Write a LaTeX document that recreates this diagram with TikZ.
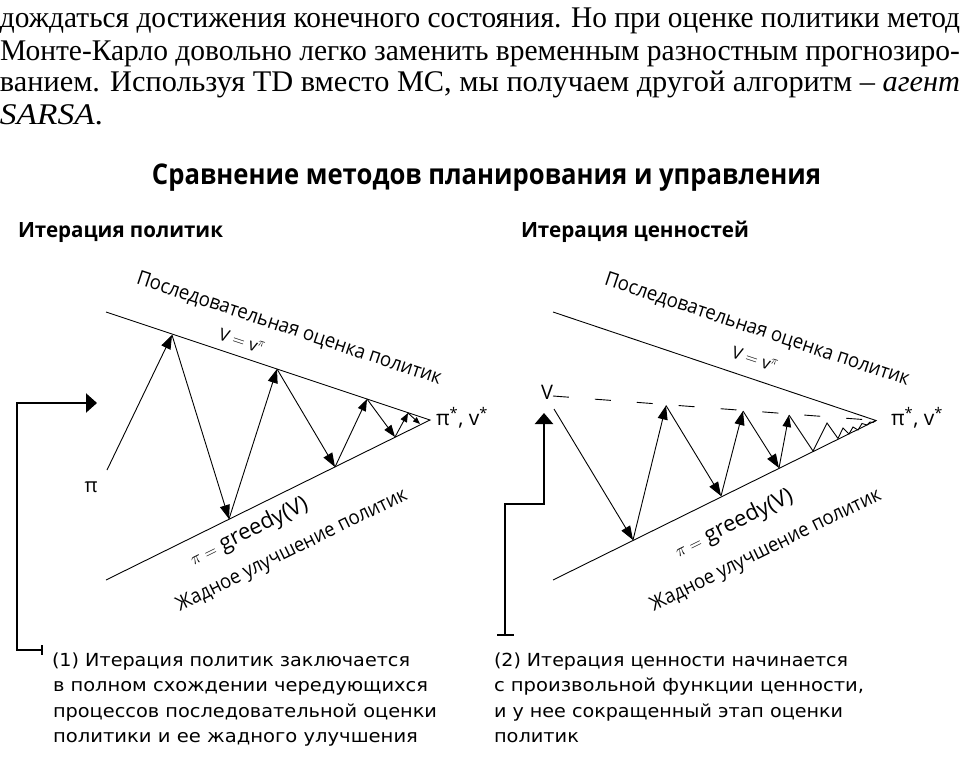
\documentclass[tikz,border=0pt]{standalone}
\usepackage{fontspec}
\usepackage{graphicx}
\setmainfont{Liberation Serif}
\newfontfamily\hsans{Open Sans}
\newfontfamily\csans{DejaVu Sans}
\usetikzlibrary{arrows.meta}
\newcommand{\fw}[2]{\resizebox{#1}{\height}{#2}}
\tikzset{
  txt/.style={inner sep=0pt, outer sep=0pt},
  thinln/.style={line width=0.9pt, black},
  ar/.style={thinln, -{Triangle[length=14pt,width=10pt]}},
  arm/.style={thinln, -{Triangle[length=12pt,width=8.5pt]}},
  ars/.style={thinln, -{Triangle[length=9pt,width=7pt]}},
  arxs/.style={thinln, -{Triangle[length=7pt,width=5.5pt]}},
  bracket/.style={line width=2.4pt, black},
  lab/.style={txt, font=\hsans\fontsize{20}{20}\selectfont},
  ptext/.style={txt, anchor=base west, font=\fontsize{30}{30}\selectfont},
}
\begin{document}
\begin{tikzpicture}[x=1pt,y=-1pt]
\path[use as bounding box] (0,0) rectangle (972,760);

% ---------- paragraph ----------
\node[ptext] (p1) at (0,28) {\fw{960pt}{дождаться достижения конечного состояния. Но при оценке политики метод}};
\node[ptext] (p2) at (0,60) {\fw{960pt}{Монте-Карло довольно легко заменить временным разностным прогнозиро-}};
\node[ptext] (p3) at (0,92) {\fw{960pt}{ванием. Используя TD вместо MC, мы получаем другой алгоритм – \textit{агент}}};
\node[ptext] (p4) at (0,124) {\fw{103pt}{\textit{SARSA}.}};

% ---------- headings ----------
\node[txt, anchor=base] (title) at (486.5,184.5) {\hsans\bfseries\fontsize{28.5}{28.5}\selectfont\fw{669pt}{Сравнение методов планирования и управления}};
\node[txt, anchor=base west] (h1) at (18,237) {\hsans\bfseries\fontsize{21}{21}\selectfont\fw{205pt}{Итерация политик}};
\node[txt, anchor=base west] (h2) at (521,237) {\hsans\bfseries\fontsize{21}{21}\selectfont\fw{228pt}{Итерация ценностей}};

% ---------- left diagram ----------
\coordinate (lu0) at (106,312);
\coordinate (ll0) at (106,580);
\coordinate (lapex) at (430,420);
\draw[thinln] (lu0) -- (lapex) -- (ll0);

\node[lab] (lpi) at (91,487) {π};
\coordinate (la0) at (107,470);
\coordinate (lU1) at (172,335);
\coordinate (lL1) at (229,519);
\coordinate (lU2) at (277,369);
\coordinate (lL2) at (335,467);
\coordinate (lU3) at (367,399);
\coordinate (lL3) at (395,437);
\coordinate (lU4) at (408,413);
\coordinate (lL4) at (420,424);
\draw[ar] (la0) -- (lU1);
\draw[ar] (lU1) -- (lL1);
\draw[ar] (lL1) -- (lU2);
\draw[ar] (lU2) -- (lL2);
\draw[arm] (lL2) -- (lU3);
\draw[arm] (lU3) -- (lL3);
\draw[ars] (lL3) -- (lU4);
\draw[arxs] (lU4) -- (lL4);

\node[lab, rotate=-18.43] (lev) at (289,329) {\fw{320pt}{Последовательная оценка политик}};
\node[txt, rotate=-18.43, font=\hsans\fontsize{17}{17}\selectfont] (lvv) at (242,341) {V $=$ v$^{\pi}$};
\node[txt, rotate=26.3, font=\hsans\fontsize{22}{22}\selectfont] (lgr) at (249,532) {{\rmfamily\fontsize{19}{19}\selectfont$\pi =$} greedy(V)};
\node[lab, rotate=26.3] (lgi) at (292,551) {\fw{255pt}{Жадное улучшение политик}};
\node[txt, font=\hsans\fontsize{21}{21}\selectfont] (lstar) at (462,418) {π\textsuperscript{*}, v\textsuperscript{*}};

% ---------- right diagram ----------
\coordinate (ru0) at (553,312);
\coordinate (rl0) at (553,580);
\coordinate (rapex) at (876,420.5);
\draw[thinln] (ru0) -- (rapex) -- (rl0);
\node[lab] (rV) at (547,392) {V};
\coordinate (rd0) at (553,396);
\draw[thinln, dash pattern=on 16pt off 26pt] (rd0) -- (rapex);

\coordinate (rs) at (554,409);
\coordinate (rL1) at (633,540);
\coordinate (rU1) at (666,405.5);
\coordinate (rL2) at (721,496);
\coordinate (rU2) at (743,411);
\coordinate (rL3) at (779,468);
\coordinate (rU3) at (789,415);
\draw[ar] (rs) -- (rL1);
\draw[ar] (rL1) -- (rU1);
\draw[ar] (rU1) -- (rL2);
\draw[ar] (rL2) -- (rU2);
\draw[ar] (rU2) -- (rL3);
\draw[arm] (rL3) -- (rU3);
\coordinate (z1) at (813,451);
\coordinate (z2) at (827,423);
\coordinate (z3) at (838,438.5);
\coordinate (z4) at (843,428);
\coordinate (z5) at (849,434);
\coordinate (z6) at (853,427);
\coordinate (z7) at (858,430);
\coordinate (z8) at (862,423.5);
\coordinate (z9) at (867,425);
\coordinate (z10) at (870,422);
\coordinate (z11) at (873,422.5);
\draw[thinln] (rU3) -- (z1) -- (z2) -- (z3) -- (z4) -- (z5) -- (z6) -- (z7) -- (z8) -- (z9) -- (z10) -- (z11) -- (rapex);

\node[lab, rotate=-18.43] (rev) at (757,330) {\fw{320pt}{Последовательная оценка политик}};
\node[txt, rotate=-18.43, font=\hsans\fontsize{17}{17}\selectfont] (rvv) at (755,359) {V $=$ v$^{\pi}$};
\node[txt, rotate=26.3, font=\hsans\fontsize{22}{22}\selectfont] (rgr) at (734,524) {{\rmfamily\fontsize{19}{19}\selectfont$\pi =$} greedy(V)};
\node[lab, rotate=26.3] (rgi) at (766,551) {\fw{255pt}{Жадное улучшение политик}};
\node[txt, font=\hsans\fontsize{21}{21}\selectfont] (rstar) at (917,418) {π\textsuperscript{*}, v\textsuperscript{*}};

% ---------- brackets ----------
\coordinate (b1s) at (43,650);
\coordinate (b1c) at (17,650);
\coordinate (b1t) at (17,403);
\coordinate (b1e) at (97,403);
\draw[bracket, {Bar[width=10pt,line width=1.6pt]}-{Triangle[length=11pt,width=19pt]}] (b1s) -- (b1c) -- (b1t) -- (b1e);

\coordinate (b2s) at (505,636);
\coordinate (b2c) at (505,504);
\coordinate (b2d) at (544,504);
\coordinate (b2e) at (544,413);
\draw[bracket, {Bar[width=17pt,line width=1.6pt]}-{Triangle[length=11pt,width=18pt]}] (b2s) -- (b2c) -- (b2d) -- (b2e);

% ---------- notes ----------
\begin{scope}[every node/.style={txt, anchor=base west, font=\csans\fontsize{18}{18}\selectfont}]
\node (n11) at (52,666) {\fw{358pt}{(1) Итерация политик заключается}};
\node (n12) at (53,691.5) {\fw{375pt}{в полном схождении чередующихся}};
\node (n13) at (53,717) {\fw{384pt}{процессов последовательной оценки}};
\node (n14) at (53,742) {\fw{365pt}{политики и ее жадного улучшения}};
\node (n21) at (494,666) {\fw{354pt}{(2) Итерация ценности начинается}};
\node (n22) at (494,691.5) {\fw{370pt}{с произвольной функции ценности,}};
\node (n23) at (494,717) {\fw{349pt}{и у нее сокращенный этап оценки}};
\node (n24) at (494,742) {\fw{85pt}{политик}};
\end{scope}
\end{tikzpicture}
\end{document}
